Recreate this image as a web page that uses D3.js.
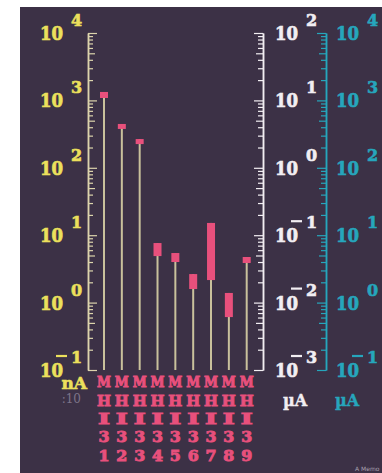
<!DOCTYPE html>
<html><head><meta charset="utf-8">
<script src="https://cdn.jsdelivr.net/npm/d3@7"></script>
<style>html,body{margin:0;padding:0;background:#fff;overflow:hidden}</style>
</head><body>
<svg id="c" width="382" height="473"></svg>
<script>
// ---- data ----
const categories = ["MHI31","MHI32","MHI33","MHI34","MHI35","MHI36","MHI37","MHI38","MHI39"];
const lowValues  = [1086, 377, 225, 4.9, 4.0, 1.59, 2.16, 0.61, 3.87];   // nA
const highValues = [1334, 447, 267, 7.65, 5.44, 2.65, 15.2, 1.39, 4.75]; // nA
const leftExponents  = [4, 3, 2, 1, 0, -1];   // nA
const whiteExponents = [2, 1, 0, -1, -2, -3]; // µA
const tealExponents  = [4, 3, 2, 1, 0, -1];   // µA

const bg = "#3c3146", yellow = "#ece05c", white = "#f2eef2", teal = "#26a6bc",
      pink = "#e8507c", stem = "#c9c19c", leftAxisCol = "#dcd4ac";
const svg = d3.select("#c");
svg.append("rect").attr("x",20).attr("y",7).attr("width",362).attr("height",466).attr("fill",bg);

const yTop = 33, yBottom = 370;
const yL = d3.scaleLog().domain([0.1, 1e4]).range([yBottom, yTop]);
const yW = d3.scaleLog().domain([1e-3, 1e2]).range([yBottom, yTop]);
const yT = d3.scaleLog().domain([0.1, 1e4]).range([yBottom, yTop]);
const x = d3.scalePoint().domain(categories).range([104, 246.7]);

function minorTicks(s){ const [a,b]=s.domain(); const t=[]; 
  for(let e=Math.round(Math.log10(a)); e<Math.round(Math.log10(b)); e++) for(let m=2;m<=9;m++) t.push(m*Math.pow(10,e)); return t; }
function majorTicks(s){ const [a,b]=s.domain(); const t=[];
  for(let e=Math.round(Math.log10(a)); e<=Math.round(Math.log10(b)); e++) t.push(Math.pow(10,e)); return t; }

function drawAxis(scale, xpos, dir, col){
  const mk = dir>0 ? d3.axisRight : d3.axisLeft;
  const g = svg.append("g").attr("transform",`translate(${xpos},0)`);
  g.call(mk(scale).tickValues(minorTicks(scale)).tickSize(5).tickSizeOuter(0).tickFormat(""));
  g.append("g").call(mk(scale).tickValues(majorTicks(scale)).tickSize(9).tickSizeOuter(0).tickFormat(""));
  g.selectAll("path.domain").attr("stroke",col).attr("stroke-width",1.5);
  g.selectAll("line").attr("stroke",col).attr("stroke-width",1.2);
  g.selectAll(".tick line").filter(d=>{const m=d/Math.pow(10,Math.floor(Math.log10(d)+1e-9)); return Math.abs(m-5)<1e-6;}).attr("x2",dir*7);
}
drawAxis(yL, 88, 1, leftAxisCol);
drawAxis(yW, 263, -1, white);
drawAxis(yT, 326, -1, teal);

const font = "'DejaVu Serif', serif";
function boldText(sel, col, sw){ return sel.attr("fill",col).attr("stroke",col).attr("stroke-width",sw)
  .attr("font-family",font).attr("font-weight","bold"); }
function powLabels(exps, scale, xText, col){
  exps.forEach(e=>{
    const y = scale(Math.pow(10,e));
    boldText(svg.append("text").attr("x",xText).attr("y",y+7).attr("font-size",18).attr("textLength",23)
      .attr("lengthAdjust","spacingAndGlyphs").text("10"), col, 0.7);
    boldText(svg.append("text").attr("x",xText+31).attr("y",y-7).attr("font-size",16).text(Math.abs(e)), col, 0.6);
    if(e<0){
      svg.append("line").attr("x1",xText+16).attr("x2",xText+27).attr("y1",y-14).attr("y2",y-14)
        .attr("stroke",col).attr("stroke-width",2.2);
    }
  });
}
powLabels(leftExponents, yL, 40, yellow);
powLabels(whiteExponents, yW, 275, white);
powLabels(tealExponents, yT, 336, teal);

// stems and markers
const idx = d3.range(categories.length);
svg.selectAll("line.stem").data(idx).join("line").attr("class","stem")
  .attr("x1",i=>x(categories[i])).attr("x2",i=>x(categories[i]))
  .attr("y1",yBottom).attr("y2",i=>yL(highValues[i]))
  .attr("stroke",stem).attr("stroke-width",2);
svg.selectAll("rect.mk").data(idx).join("rect").attr("class","mk")
  .attr("x",i=>x(categories[i])-4).attr("width",8)
  .attr("y",i=>yL(highValues[i])).attr("height",i=>yL(lowValues[i])-yL(highValues[i]))
  .attr("fill",pink);

// category labels (stacked)
const rowY = [387, 406, 424, 442, 461];
const rowW = [14, 14, 12, 11, 11];
categories.forEach(c=>{
  c.split("").forEach((ch,k)=>{
    boldText(svg.append("text").attr("x",x(c)-rowW[k]/2).attr("y",rowY[k])
      .attr("font-size",14).attr("textLength",rowW[k]).attr("lengthAdjust","spacingAndGlyphs").text(ch), pink, 0.9);
  });
});

// units
boldText(svg.append("text").attr("x",87).attr("y",389).attr("text-anchor","end")
  .attr("font-size",17).text("nA"), yellow, 0.6);
svg.append("text").attr("x",81).attr("y",403).attr("text-anchor","end").attr("fill","#7d7488")
  .attr("font-family",font).attr("font-size",12).text(":10");
boldText(svg.append("text").attr("x",283).attr("y",406).attr("font-size",16).text("µA"), white, 0.4);
boldText(svg.append("text").attr("x",335).attr("y",406).attr("font-size",16).text("µA"), teal, 0.4);
svg.append("text").attr("x",355).attr("y",471).attr("fill","#a8a0b0")
  .attr("font-family","'DejaVu Sans', sans-serif").attr("font-size",6).text("A Memo");
</script>
</body></html>
